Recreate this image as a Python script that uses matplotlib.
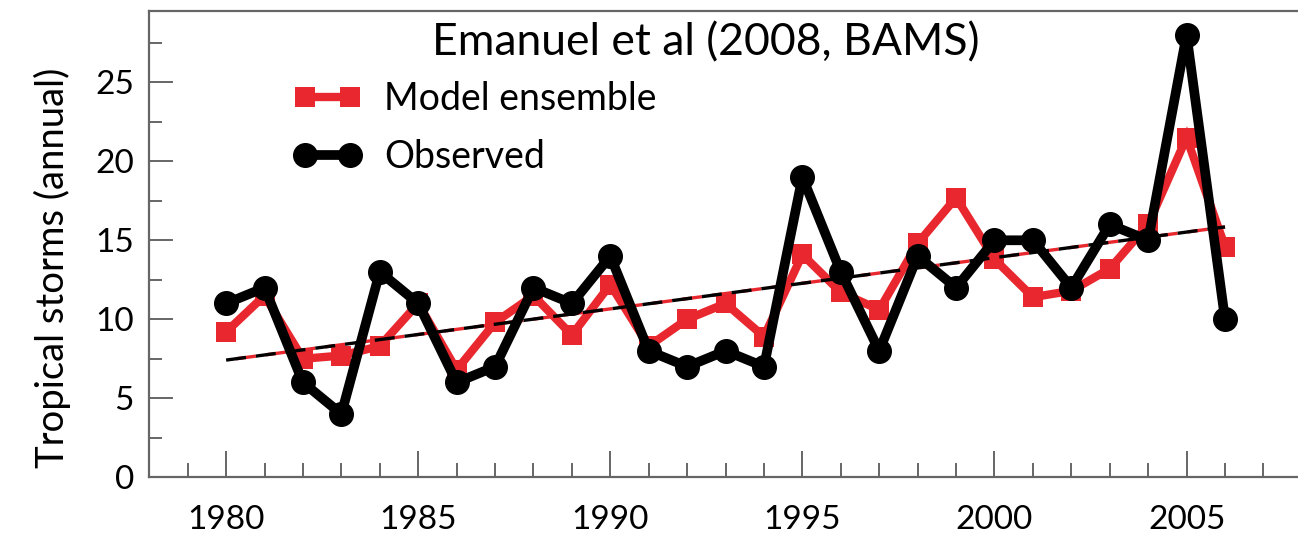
import numpy as np
import matplotlib
matplotlib.use("Agg")
from matplotlib import pyplot as plt
from matplotlib.ticker import MultipleLocator

plt.rcParams['font.family'] = ['Lato', 'DejaVu Sans']

years = list(range(1980, 2007))
model = [9.2, 11.5, 7.5, 7.7, 8.3, 11.0, 6.8, 9.8, 11.5, 9.0,
         12.2, 8.3, 10.0, 11.0, 8.9, 14.1, 11.7, 10.6, 14.8, 17.7,
         13.8, 11.4, 11.8, 13.2, 16.0, 21.5, 14.6]
observed = [11, 12, 6, 4, 13, 11, 6, 7, 12, 11,
            14, 8, 7, 8, 7, 19, 13, 8, 14, 12,
            15, 15, 12, 16, 15, 28, 10]

red = '#e8282e'
grey = '#666666'

fig = plt.figure(figsize=(12.98, 5.35), dpi=100)
ax = fig.add_axes([0.115, 0.108, 0.885, 0.871])

# linear trend of the observed counts
coef = np.polyfit(years, observed, 1)
trend = np.polyval(coef, years)

ax.plot(years, model, color=red, lw=6, marker='s', ms=15, mew=0,
        solid_joinstyle='miter', label='Model ensemble', zorder=2)
ax.plot(years, trend, color=red, lw=2.4, ls=(6, (6, 3)), zorder=3)
ax.plot(years, trend, color='black', lw=2.4, ls=(0, (6, 3)), zorder=3)
ax.plot(years, observed, color='black', lw=7, marker='o', ms=17,
        label='Observed', zorder=4)

ax.set_xlim(1978, 2007.9)
ax.set_ylim(0, 29.5)

ax.xaxis.set_major_locator(MultipleLocator(5))
ax.xaxis.set_minor_locator(MultipleLocator(1))
ax.yaxis.set_major_locator(MultipleLocator(5))
ax.yaxis.set_minor_locator(MultipleLocator(2.5))

ax.tick_params(which='both', direction='in', color=grey, width=1.4,
               labelsize=24, top=False, right=False)
ax.tick_params(axis='x', which='major', length=19, pad=20)
ax.tick_params(axis='x', which='minor', length=10)
ax.tick_params(axis='y', which='major', length=17, pad=11)
ax.tick_params(axis='y', which='minor', length=9)

for side in ['left', 'bottom', 'top']:
    ax.spines[side].set_color(grey)
    ax.spines[side].set_linewidth(1.6)
ax.spines['right'].set_visible(False)

ax.set_ylabel('Tropical storms (annual)', fontsize=27.5)
ax.yaxis.set_label_coords(-0.068, 0.449)

ax.text(0.246, 0.933, 'Emanuel et al (2008, BAMS)', transform=ax.transAxes,
        fontsize=32, va='center', ha='left')

ax.legend(loc='upper left', bbox_to_anchor=(0.113, 0.883), frameon=False,
          fontsize=27, numpoints=2, handlelength=1.8, handletextpad=0.6,
          labelspacing=0.6, borderaxespad=0)

fig.savefig('out.png', dpi=100)
